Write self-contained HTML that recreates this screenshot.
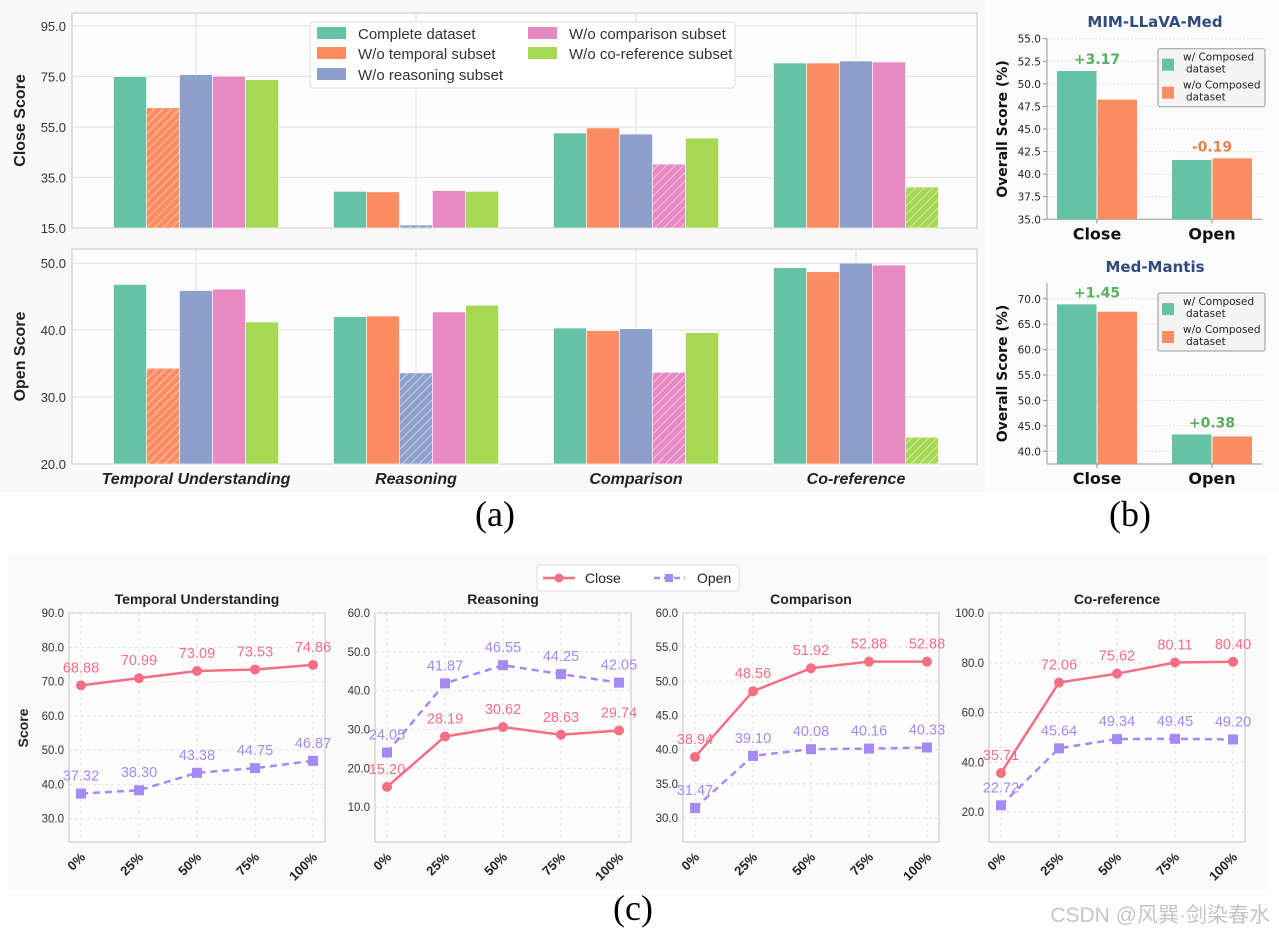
<!DOCTYPE html>
<html><head><meta charset="utf-8"><style>
body{margin:0;background:#fff}
svg{display:block}
text{font-family:"Liberation Sans",sans-serif}
.tk{font-family:"Liberation Sans Narrow","Liberation Sans",sans-serif;font-size:13px;fill:#333}
.tkb{font-family:"DejaVu Sans","Liberation Sans",sans-serif;font-size:10.5px;fill:#222}
.cap{font-family:"Liberation Serif",serif;font-size:36px}
</style></head><body>
<svg id="fig" width="1279" height="935" viewBox="0 0 1279 935">
<defs>
<pattern id="hatch" patternUnits="userSpaceOnUse" width="6" height="6" patternTransform="rotate(45)">
<line x1="0" y1="0" x2="0" y2="6" stroke="#fff" stroke-width="1.2" opacity="0.8"/>
</pattern>
</defs>
<rect x="0" y="0" width="985" height="492" fill="#f9f9f9"/>
<rect x="990" y="0" width="289" height="492" fill="#fbfbfb"/>
<rect x="8" y="555" width="1260" height="335" fill="#fafafa"/>
<g id="pa"></g>
<g id="pb"></g>
<g id="pc"></g>
<text x="495" y="526" class="cap" text-anchor="middle">(a)</text>
<text x="1130" y="526" class="cap" text-anchor="middle">(b)</text>
<text x="633" y="920" class="cap" text-anchor="middle">(c)</text>
<text x="1270" y="922" style="font-family:'Liberation Sans','Noto Sans CJK SC',sans-serif;font-size:21px" fill="#c4c4c4" text-anchor="end">CSDN @风巽·剑染春水</text>
</svg>
<script>
// ---------- Panel (a) data ----------
const groups=["Temporal Understanding","Reasoning","Comparison","Co-reference"];
const seriesNames=["Complete dataset","W/o temporal subset","W/o reasoning subset","W/o comparison subset","W/o co-reference subset"];
const seriesColors=["#66c2a5","#fc8d62","#8da0cb","#e78ac3","#a6d854"];
const closeTemporal=[74.9,62.6,75.7,75.1,73.7];
const closeReasoning=[29.5,29.3,16.2,29.8,29.5];
const closeComparison=[52.6,54.6,52.2,40.3,50.6];
const closeCoref=[80.3,80.3,81.1,80.7,31.2];
const openTemporal=[46.8,34.3,45.9,46.1,41.2];
const openReasoning=[42.0,42.1,33.6,42.7,43.7];
const openComparison=[40.3,39.9,40.2,33.7,39.6];
const openCoref=[49.3,48.7,50.0,49.7,24.0];
const hatchedSeries=[1,2,3,4];
const closeTicks=[15,35,55,75,95];
const openTicks=[20,30,40,50];
// ---------- Panel (b) data ----------
const bCats=["Close","Open"];
const mimWith=[51.42,41.57];
const mimWithout=[48.25,41.76];
const mimDelta=["+3.17","-0.19"];
const mantisWith=[68.9,43.3];
const mantisWithout=[67.45,42.92];
const mantisDelta=["+1.45","+0.38"];
const mimTicks=[35,37.5,40,42.5,45,47.5,50,52.5,55];
const mantisTicks=[40,45,50,55,60,65,70];
// ---------- Panel (c) data ----------
const ratios=["0%","25%","50%","75%","100%"];
const cTitles=["Temporal Understanding","Reasoning","Comparison","Co-reference"];
const lineClose0=[68.88,70.99,73.09,73.53,74.86];
const lineOpen0=[37.32,38.30,43.38,44.75,46.87];
const lineClose1=[15.20,28.19,30.62,28.63,29.74];
const lineOpen1=[24.05,41.87,46.55,44.25,42.05];
const lineClose2=[38.94,48.56,51.92,52.88,52.88];
const lineOpen2=[31.47,39.10,40.08,40.16,40.33];
const lineClose3=[35.71,72.06,75.62,80.11,80.40];
const lineOpen3=[22.72,45.64,49.34,49.45,49.20];
const cTicks0=[30,40,50,60,70,80,90];
const cTicks1=[10,20,30,40,50,60];
const cTicks2=[30,35,40,45,50,55,60];
const cTicks3=[20,40,60,80,100];

const NS="http://www.w3.org/2000/svg";
function mk(parent,tag,attrs,txt){const e=document.createElementNS(NS,tag);for(const k in attrs)e.setAttribute(k,attrs[k]);if(txt!==undefined)e.textContent=txt;parent.appendChild(e);return e;}
function lin(d0,d1,r0,r1){return v=>r0+(v-d0)*(r1-r0)/(d1-d0);}

// ===== Panel A =====
const pa=document.getElementById('pa');
const closeData=[closeTemporal,closeReasoning,closeComparison,closeCoref];
const openData=[openTemporal,openReasoning,openComparison,openCoref];
function drawA(data,ticks,dmin,dmax,top,bot,label,nm){
  const y=lin(dmin,dmax,bot,top);
  const f=mk(pa,'rect',{x:72,y:top,width:905,height:bot-top,fill:'#fdfdfd',stroke:'#d6d6d6','stroke-width':1.5});
  
  
  ticks.forEach(t=>{
    const g=mk(pa,'line',{x1:72,x2:977,y1:y(t),y2:y(t),stroke:'#dedede','stroke-width':1});
    
    
    const tl=mk(pa,'text',{x:66,y:y(t)+5,'text-anchor':'end',class:'tk'},t.toFixed(1));
    
    
  });
  groups.forEach((gname,gi)=>{
    const cx=196+gi*220;
    const vg=mk(pa,'line',{x1:cx,x2:cx,y1:top,y2:bot,stroke:'#dedede','stroke-width':1});
    
    
    data[gi].forEach((v,si)=>{
      const x=cx-82.5+si*33;
      const r=mk(pa,'rect',{x:x,y:y(v),width:33,height:bot-y(v),fill:seriesColors[si],stroke:'#fff','stroke-width':0.6});
      
      
      if(hatchedSeries[gi]===si){
        const h=mk(pa,'rect',{x:x,y:y(v),width:33,height:bot-y(v),fill:'url(#hatch)'});
        
        
      }
    });
  });
  const yl=mk(pa,'text',{x:0,y:0,transform:`translate(25,${(top+bot)/2}) rotate(-90)`,'text-anchor':'middle','font-size':16,'font-weight':'bold',fill:'#222'},label);
  
  
}
drawA(closeData,closeTicks,15,100.1,13,228,'Close Score','close-score');
drawA(openData,openTicks,20,52.1,249,464,'Open Score','open-score');
groups.forEach((g,gi)=>{
  const t=mk(pa,'text',{x:196+gi*220,y:484,'text-anchor':'middle','font-size':16,'font-weight':'bold','font-style':'italic',fill:'#222'},g);
  
  
});
// legend A
const lgA=mk(pa,'g',{});


mk(lgA,'rect',{x:310,y:22,width:425,height:66,rx:3,fill:'#fff',stroke:'#ddd','fill-opacity':0.9});
const legPos=[[317,26],[317,46],[317,67],[528,26],[528,46]];
seriesNames.forEach((s,i)=>{
  const e=mk(lgA,'g',{});
  
  
  mk(e,'rect',{x:legPos[i][0],y:legPos[i][1]+1,width:29,height:12,fill:seriesColors[i]});
  mk(e,'text',{x:legPos[i][0]+41,y:legPos[i][1]+13,class:'tk',style:'font-size:15px'},s);
});

// ===== Panel B =====
const pb=document.getElementById('pb');
function drawB(title,w,wo,delta,ticks,dmin,dmax,top,bot,titleY,nm){
  const y=lin(dmin,dmax,bot,top);
  const L=1047,R=1262;
  const tt=mk(pb,'text',{x:1155,y:titleY,'text-anchor':'middle','font-size':15,'font-weight':'bold',fill:'#2f4b7c',style:'font-family:"DejaVu Sans",sans-serif'},title);
  
  
  ticks.forEach(t=>{
    const g=mk(pb,'line',{x1:L,x2:R,y1:y(t),y2:y(t),stroke:'#ddd','stroke-dasharray':'1.5,2'});
    
    
    mk(pb,'line',{x1:L-4,x2:L,y1:y(t),y2:y(t),stroke:'#888'});
    const tl=mk(pb,'text',{x:L-6,y:y(t)+4,'text-anchor':'end',class:'tkb'},t.toFixed(1));
    
    
  });
  mk(pb,'line',{x1:L,x2:L,y1:top,y2:bot,stroke:'#aaa','stroke-width':1.2});
  mk(pb,'line',{x1:L,x2:R,y1:bot,y2:bot,stroke:'#aaa','stroke-width':1.2});
  bCats.forEach((c,i)=>{
    const cx=1097+i*115;
    const b1=mk(pb,'rect',{x:cx-40,y:y(w[i]),width:39.5,height:bot-y(w[i]),fill:'#66c2a5'});
    
    
    const b2=mk(pb,'rect',{x:cx+0.5,y:y(wo[i]),width:39.5,height:bot-y(wo[i]),fill:'#fc8d62'});
    
    
    const pos=delta[i][0]==='+';
    const d=mk(pb,'text',{x:cx,y:Math.min(y(w[i]),y(wo[i]))-7,'text-anchor':'middle','font-size':14,'font-weight':'bold',fill:pos?'#5aae61':'#e5834f',style:'font-family:"DejaVu Sans",sans-serif'},delta[i]);
    
    
    mk(pb,'line',{x1:cx,x2:cx,y1:bot,y2:bot+4,stroke:'#888'});
    const xl=mk(pb,'text',{x:cx,y:bot+20,'text-anchor':'middle','font-size':16,'font-weight':'bold',fill:'#111',style:'font-family:"DejaVu Sans",sans-serif'},c);
    
    
  });
  const yl=mk(pb,'text',{x:0,y:0,transform:`translate(1007,${(top+bot)/2}) rotate(-90)`,'text-anchor':'middle','font-size':14,'font-weight':'bold',fill:'#111',style:'font-family:"DejaVu Sans",sans-serif'},'Overall Score (%)');
  
  
  const lg=mk(pb,'g',{});
  
  
  const ly=top+10;
  mk(lg,'rect',{x:1158,y:ly,width:107,height:58,rx:2,fill:'#f4f4f4',stroke:'#999'});
  mk(lg,'rect',{x:1162,y:ly+10,width:12,height:12,fill:'#66c2a5'});
  mk(lg,'text',{x:1183,y:ly+12,'font-size':10.5,fill:'#222',style:'font-family:"DejaVu Sans",sans-serif'},'w/ Composed');
  mk(lg,'text',{x:1186,y:ly+24,'font-size':10.5,fill:'#222',style:'font-family:"DejaVu Sans",sans-serif'},'dataset');
  mk(lg,'rect',{x:1162,y:ly+38,width:12,height:12,fill:'#fc8d62'});
  mk(lg,'text',{x:1183,y:ly+40,'font-size':10.5,fill:'#222',style:'font-family:"DejaVu Sans",sans-serif'},'w/o Composed');
  mk(lg,'text',{x:1186,y:ly+52,'font-size':10.5,fill:'#222',style:'font-family:"DejaVu Sans",sans-serif'},'dataset');
}
drawB('MIM-LLaVA-Med',mimWith,mimWithout,mimDelta,mimTicks,35,55,38.7,219.3,27,'mim');
drawB('Med-Mantis',mantisWith,mantisWithout,mantisDelta,mantisTicks,37.5,73.1,283,464,272,'mantis');

// ===== Panel C =====
const pc=document.getElementById('pc');
const closeLines=[lineClose0,lineClose1,lineClose2,lineClose3];
const openLines=[lineOpen0,lineOpen1,lineOpen2,lineOpen3];
const cTicks=[cTicks0,cTicks1,cTicks2,cTicks3];
const cRanges=[[23.2,90],[1,60],[26.5,60],[8,100]];
const cLefts=[69,375,683,989];
const CT=613,CB=842,CW=256;
cTitles.forEach((title,k)=>{
  const L=cLefts[k];
  const y=lin(cRanges[k][0],cRanges[k][1],CB,CT);
  const x=lin(0,ratios.length-1,L+12,L+CW-12);
  const fr=mk(pc,'rect',{x:L,y:CT,width:CW,height:CB-CT,fill:'#fdfdfd',stroke:'#d0d0d0','stroke-width':1.3});
  
  
  const tt=mk(pc,'text',{x:L+CW/2,y:604,'text-anchor':'middle','font-size':14,'font-weight':'bold',fill:'#222'},title);
  
  
  cTicks[k].forEach(t=>{
    const g=mk(pc,'line',{x1:L,x2:L+CW,y1:y(t),y2:y(t),stroke:'#e2e2e2','stroke-dasharray':'3,3'});
    
    
    const tl=mk(pc,'text',{x:L-5,y:y(t)+4,'text-anchor':'end',class:'tk',style:'font-size:11.5px'},t.toFixed(1));
    
    
  });
  ratios.forEach((r,i)=>{
    const g=mk(pc,'line',{x1:x(i),x2:x(i),y1:CT,y2:CB,stroke:'#e2e2e2','stroke-dasharray':'3,3'});
    
    
    const tl=mk(pc,'text',{x:0,y:0,transform:`translate(${x(i)+5},${CB+16}) rotate(-45)`,'text-anchor':'end','font-size':13,'font-weight':'bold',fill:'#222'},r);
    
    
  });
  [[closeLines[k],'#f46f84',''],[openLines[k],'#a48af2','7,5']].forEach(([vals,col,dash],si)=>{
    const pts=vals.map((v,i)=>x(i)+','+y(v)).join(' ');
    const pl=mk(pc,'polyline',{points:pts,fill:'none',stroke:col,'stroke-width':2.5,'stroke-dasharray':dash});
    
    
    vals.forEach((v,i)=>{
      let m;
      if(si===0) m=mk(pc,'circle',{cx:x(i),cy:y(v),r:5,fill:col});
      else m=mk(pc,'rect',{x:x(i)-5,y:y(v)-5,width:10,height:10,fill:col});
      
      
      const lb=mk(pc,'text',{x:x(i),y:y(v)-13,'text-anchor':'middle',class:'tk',style:'font-size:14.5px;fill:'+col},v.toFixed(2));
      
      
    });
  });
});
const cyl=mk(pc,'text',{x:0,y:0,transform:'translate(28,728) rotate(-90)','text-anchor':'middle','font-size':14,'font-weight':'bold',fill:'#222'},'Score');


const lgC=mk(pc,'g',{});


mk(lgC,'rect',{x:537,y:565,width:202,height:26,rx:3,fill:'#fff',stroke:'#ddd'});
mk(lgC,'line',{x1:543,x2:575,y1:578,y2:578,stroke:'#f46f84','stroke-width':2.5});
mk(lgC,'circle',{cx:559,cy:578,r:4.5,fill:'#f46f84'});
mk(lgC,'text',{x:585,y:583,'font-size':14,fill:'#222'},'Close');
mk(lgC,'line',{x1:654,x2:685,y1:578,y2:578,stroke:'#a48af2','stroke-width':2.5,'stroke-dasharray':'6,4'});
mk(lgC,'rect',{x:665,y:574,width:8,height:8,fill:'#a48af2'});
mk(lgC,'text',{x:697,y:583,'font-size':14,fill:'#222'},'Open');
</script>
</body></html>
